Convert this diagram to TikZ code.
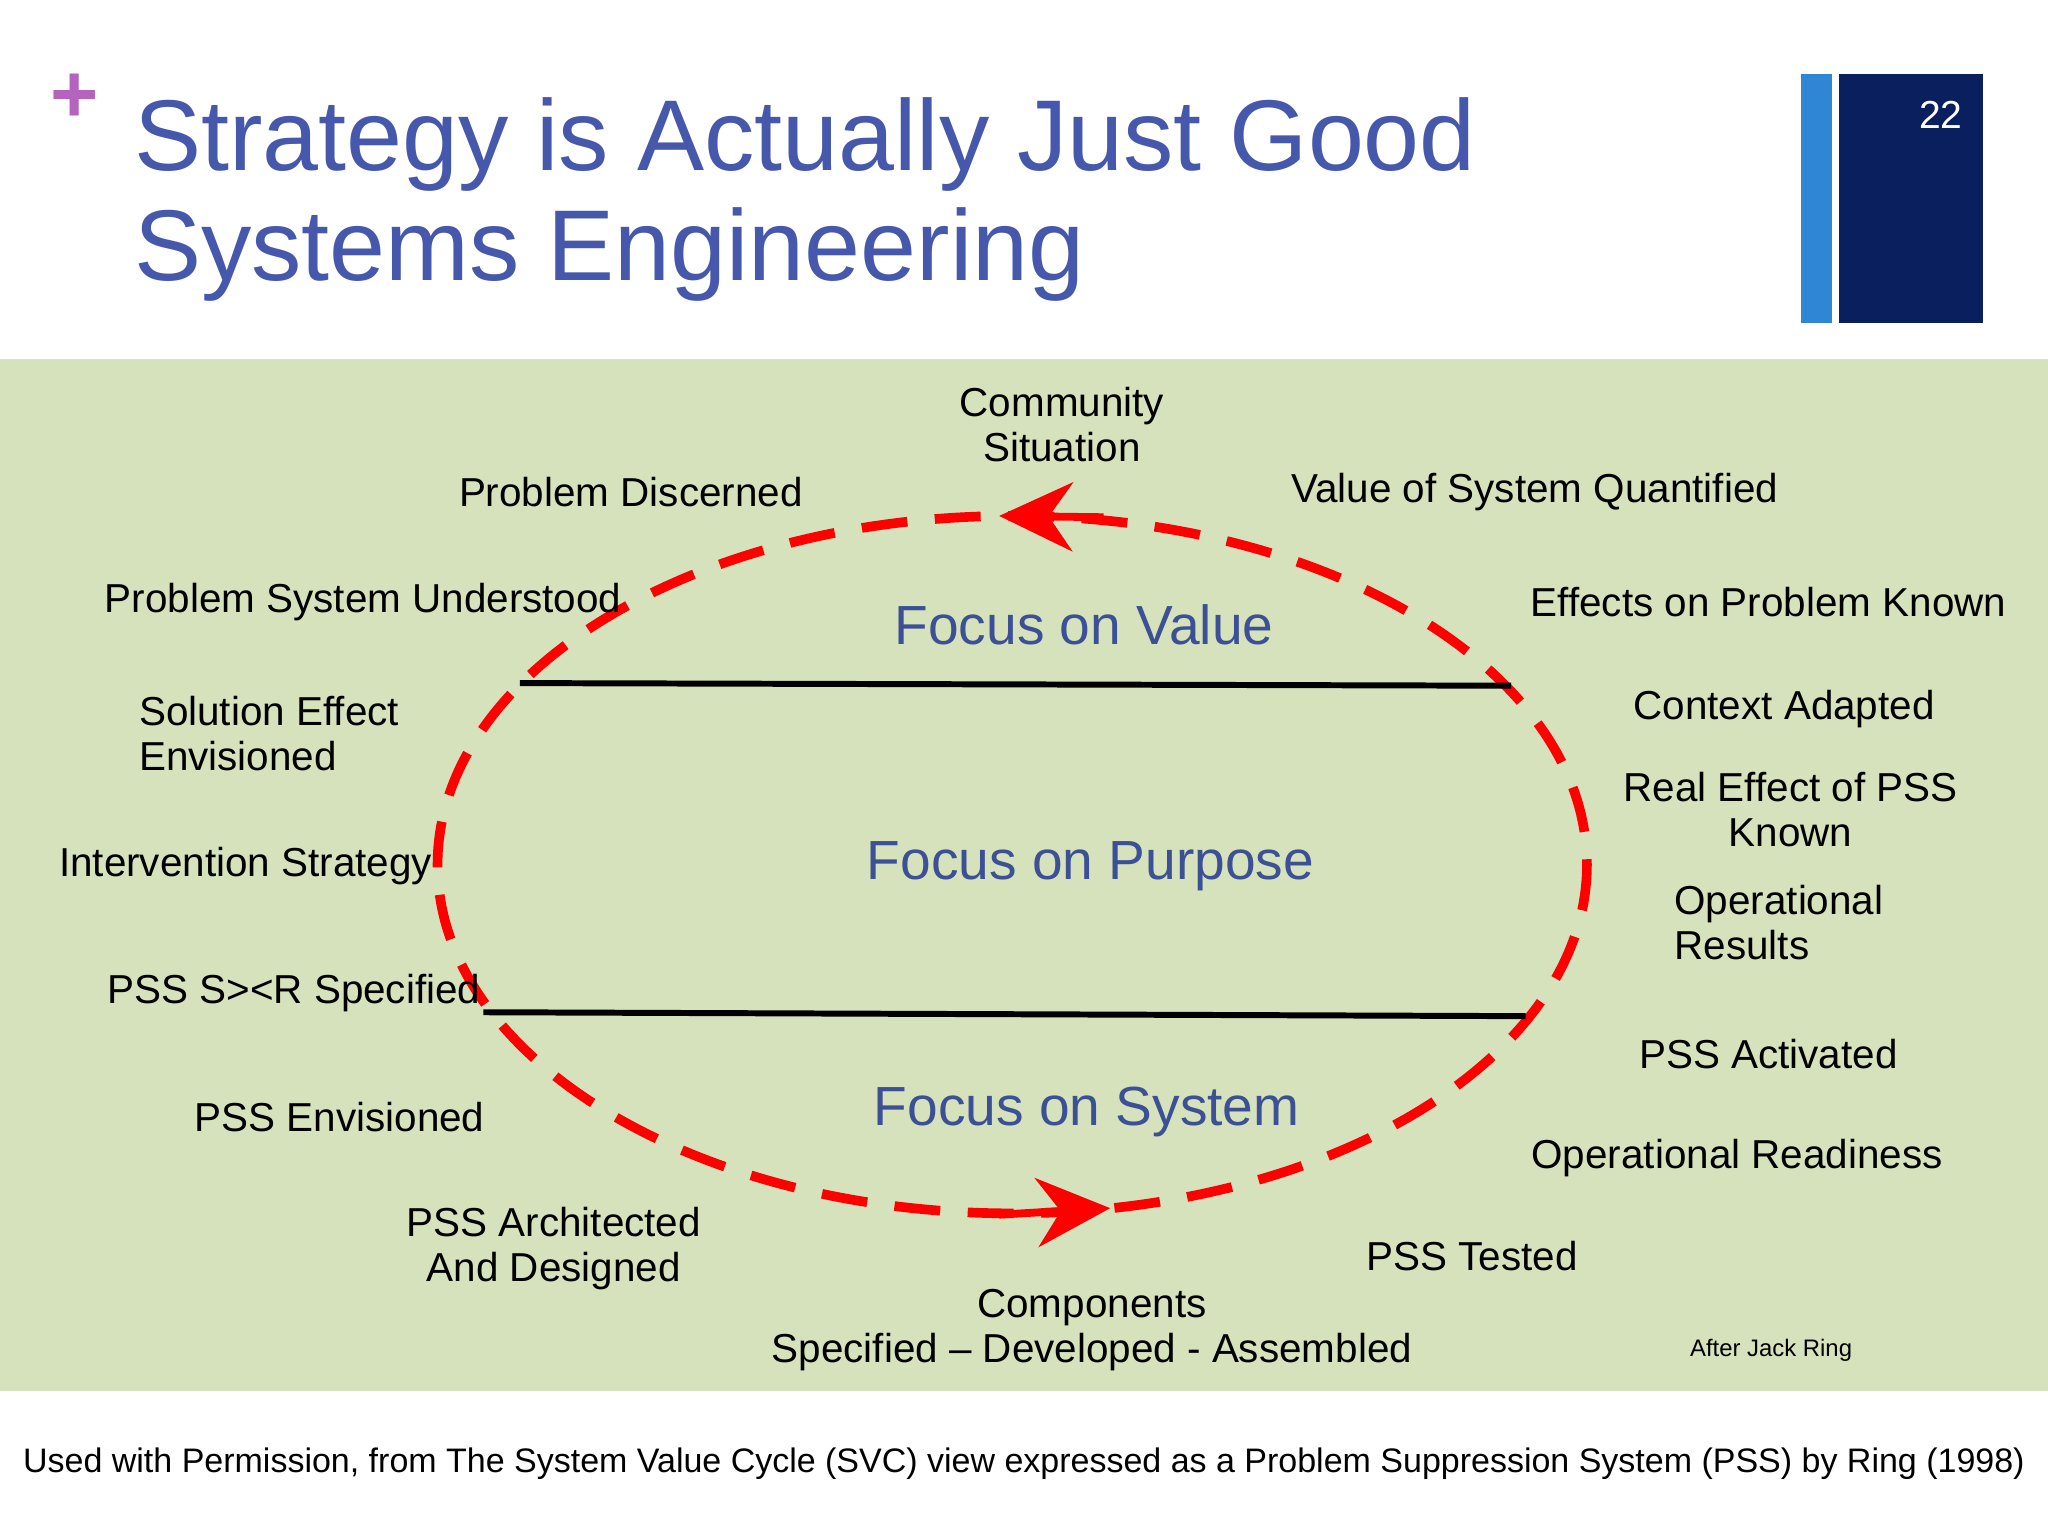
\documentclass[tikz,border=0pt]{standalone}
\usepackage{fontspec}
\setmainfont{Liberation Sans}
\usetikzlibrary{arrows.meta}
\definecolor{bg}{RGB}{214,226,188}
\definecolor{ttl}{RGB}{70,88,172}
\definecolor{plus}{RGB}{180,100,190}
\definecolor{lb}{RGB}{46,134,212}
\definecolor{navy}{RGB}{10,31,94}
\definecolor{fc}{RGB}{60,80,150}
\begin{document}
\begin{tikzpicture}[x=0.01cm,y=-0.01cm,
 lbl/.style={font=\fontsize{8.8pt}{9.8pt}\selectfont,align=center,inner sep=0pt},
 foc/.style={font=\fontsize{12pt}{14pt}\selectfont,text=fc,inner sep=0pt},
 ttlsty/.style={font=\fontsize{21.9pt}{24pt}\selectfont,text=ttl,align=left,inner sep=0pt,anchor=north west}]
\useasboundingbox (0,0) rectangle (1568,1176);
\fill[white] (0,0) rectangle (1568,1176);
\fill[bg] (0,275) rectangle (1568,1065);
\node[text=plus,font=\bfseries\fontsize{18pt}{18pt}\selectfont,inner sep=0pt] (plus) at (57,75) {+};
\node[ttlsty] (title) at (102,74) {Strategy is Actually Just Good\\Systems Engineering};
\fill[lb] (1379,57) rectangle (1403,247);
\fill[navy] (1408,57) rectangle (1518,247);
\node[text=white,font=\fontsize{8.5pt}{10pt}\selectfont] (num) at (1486,88) {22};
\draw[red,line width=2.1pt,dash pattern=on 10pt off 6pt] (775,662) ellipse [x radius=440,y radius=267];
\draw[red,line width=1.7pt,-{Stealth[length=16pt,width=15pt]}] (845,396) -- (765,395);
\draw[red,line width=1.7pt,-{Stealth[length=16pt,width=15pt]}] (765,930) -- (850,925);
\coordinate (l1a) at (398,523); \coordinate (l1b) at (1157,525);
\coordinate (l2a) at (370,775); \coordinate (l2b) at (1168,778);
\draw[line width=1.3pt] (l1a) -- (l1b);
\draw[line width=1.3pt] (l2a) -- (l2b);
\node[foc] (fv) at (830,478) {Focus on Value};
\node[foc] (fp) at (835,663) {Focus on Purpose};
\node[foc] (fs) at (832,851) {Focus on System};
\node[lbl] (a1) at (813,325) {Community\\Situation};
\node[lbl] (a2) at (483,377) {Problem Discerned};
\node[lbl] (a3) at (1175,377) {Value of System Quantified};
\node[lbl] (a4) at (278,461) {Problem System Understood};
\node[lbl] (a5) at (1354,461) {Effects on Problem Known};
\node[lbl,align=left] (a6) at (206,562) {Solution Effect\\Envisioned};
\node[lbl] (a7) at (1366,543) {Context Adapted};
\node[lbl] (a8) at (1371,620) {Real Effect of PSS\\Known};
\node[lbl] (a9) at (188,663) {Intervention Strategy};
\node[lbl,align=left] (a10) at (1362,706) {Operational\\Results};
\node[lbl] (a11) at (225,760) {PSS S><R Specified};
\node[lbl] (a12) at (1354,807) {PSS Activated};
\node[lbl] (a13) at (260,855) {PSS Envisioned};
\node[lbl] (a14) at (1330,887) {Operational Readiness};
\node[lbl] (a15) at (424,956) {PSS Architected\\And Designed};
\node[lbl] (a16) at (1127,962) {PSS Tested};
\node[lbl] (a17) at (836,1018) {Components\\Specified -- Developed - Assembled};
\node[lbl,font=\fontsize{5.2pt}{6pt}\selectfont] (a18) at (1356,1034) {After Jack Ring};
\node[font=\fontsize{7.4pt}{8pt}\selectfont,inner sep=0pt] (foot) at (784,1121) {Used with Permission, from The System Value Cycle (SVC) view expressed as a Problem Suppression System (PSS) by Ring (1998)};
\end{tikzpicture}
\end{document}
